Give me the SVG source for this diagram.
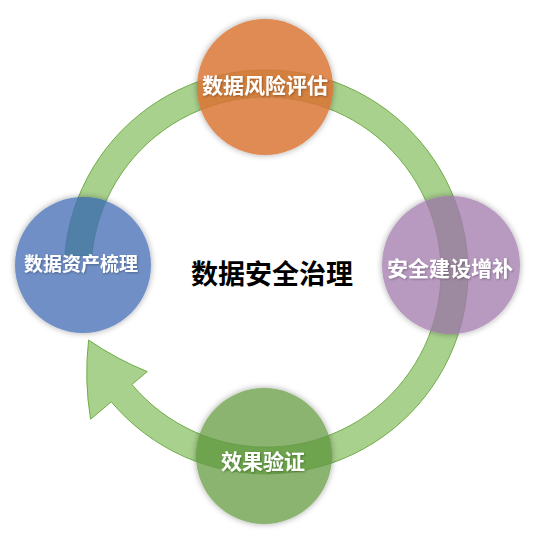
<svg xmlns="http://www.w3.org/2000/svg" xmlns:xlink="http://www.w3.org/1999/xlink" width="534" height="533" viewBox="0 0 534 533">
  <style>
    .lbl { font-family: "Noto Sans CJK SC", "Noto Sans", sans-serif; font-weight: 700; fill: #ffffff; text-anchor: middle; dominant-baseline: central; }
    .title { font-family: "Noto Sans CJK SC", "Noto Sans", sans-serif; font-weight: 700; fill: #000000; text-anchor: middle; dominant-baseline: central; font-size: 27px; }
    .band { fill: #a9d18e; stroke: #70ad47; stroke-width: 1; }
    .bandover { stroke: none; }
  </style>
  <defs>
    <path id="ring" d="M 64.8 254.4 A 202 202 0 1 1 111.3 401.8 L 90.6 419.2 Q 84 380 88.6 340.1 Q 118 360 147.3 371.6 L 131.9 384.5 A 175 175 0 1 0 91.7 256.7 Z"/>
    <filter id="glow" x="-20%" y="-20%" width="140%" height="140%">
      <feDropShadow dx="0" dy="0" stdDeviation="3" flood-color="#000000" flood-opacity="0.35"/>
    </filter>
    <filter id="tshadow" x="-10%" y="-30%" width="120%" height="160%">
      <feDropShadow dx="1" dy="1" stdDeviation="0.8" flood-color="#000000" flood-opacity="0.3"/>
    </filter>
    <clipPath id="cTop"><circle cx="265" cy="87" r="68"/></clipPath>
    <clipPath id="cLeft"><circle cx="83" cy="265" r="68"/></clipPath>
    <clipPath id="cRight"><circle cx="451" cy="265" r="69"/></clipPath>
    <clipPath id="cBottom"><circle cx="264" cy="456" r="68"/></clipPath>
  </defs>
  <rect x="0" y="0" width="534" height="533" fill="#ffffff"/>

  <g id="connectors">
    <use xlink:href="#ring" class="band"/>
  </g>

  <g id="node-top">
    <circle cx="265" cy="87" r="68" fill="#e08b53" filter="url(#glow)"/>
    <use xlink:href="#ring" clip-path="url(#cTop)" fill="#d4803e" stroke="#c87a3c" stroke-width="0.8"/>
    <text class="lbl" x="265" y="84" font-size="21" filter="url(#tshadow)">数据风险评估</text>
  </g>

  <g id="node-left">
    <circle cx="83" cy="265" r="68" fill="#6f8fc6" filter="url(#glow)"/>
    <use xlink:href="#ring" clip-path="url(#cLeft)" fill="#5080a8" stroke="#4a7a9c" stroke-width="0.8"/>
    <text class="lbl" x="81" y="262" font-size="19" filter="url(#tshadow)">数据资产梳理</text>
  </g>

  <g id="node-right">
    <circle cx="451" cy="265" r="69" fill="#b89ac0" filter="url(#glow)"/>
    <use xlink:href="#ring" clip-path="url(#cRight)" fill="#9e8aa0" stroke="#958296" stroke-width="0.8"/>
    <text class="lbl" x="450" y="267" font-size="21" filter="url(#tshadow)">安全建设增补</text>
  </g>

  <g id="node-bottom">
    <circle cx="264" cy="456" r="68" fill="#8bb46f" filter="url(#glow)"/>
    <use xlink:href="#ring" clip-path="url(#cBottom)" fill="#6da44d" stroke="#679c48" stroke-width="0.8"/>
    <text class="lbl" x="263" y="460" font-size="21" filter="url(#tshadow)">效果验证</text>
  </g>

  <g id="center">
    <text class="title" x="272" y="272">数据安全治理</text>
  </g>
</svg>
